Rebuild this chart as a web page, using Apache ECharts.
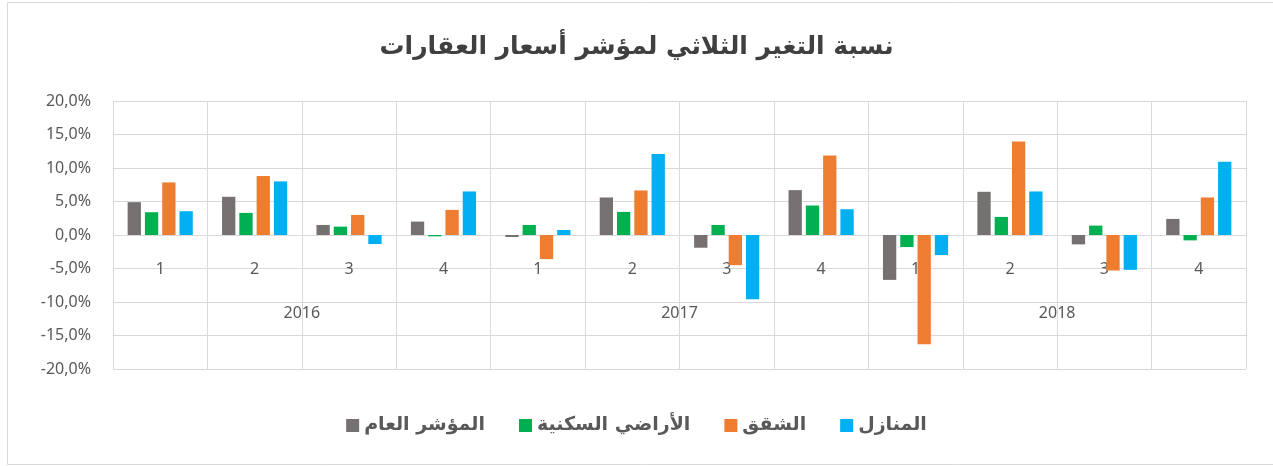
<!DOCTYPE html>
<html>
<head>
<meta charset="utf-8">
<script src="https://cdn.jsdelivr.net/npm/echarts@6/dist/echarts.min.js"></script>
<style>html,body{margin:0;padding:0;background:#fff}#c{width:1273px;height:466px}</style>
</head>
<body>
<div id="c"></div>
<script>
const quarters = ['1','2','3','4','1','2','3','4','1','2','3','4'];
const years = ['2016','2017','2018'];
const seriesNames = ['المؤشر العام','الأراضي السكنية','الشقق','المنازل'];
const generalIndex = [4.9, 5.7, 1.5, 2.0, -0.3, 5.6, -1.9, 6.7, -6.7, 6.45, -1.4, 2.4];
const residentialLand = [3.4, 3.3, 1.25, -0.2, 1.5, 3.45, 1.5, 4.4, -1.8, 2.7, 1.4, -0.8];
const apartments = [7.85, 8.8, 3.0, 3.75, -3.6, 6.65, -4.5, 11.85, -16.3, 13.95, -5.3, 5.6];
const houses = [3.55, 8.0, -1.35, 6.5, 0.75, 12.1, -9.6, 3.85, -3.0, 6.5, -5.2, 10.95];
const colors = ['#767171','#00B050','#ED7D31','#00B0F0'];
const title = 'نسبة التغير الثلاثي لمؤشر أسعار العقارات';

const chart = echarts.init(document.getElementById('c'));
const dataSets = [generalIndex, residentialLand, apartments, houses];
chart.setOption({
  backgroundColor: '#fff',
  animation: false,
  title: {
    text: title, left: 'center', top: 30,
    textStyle: {fontFamily: 'DejaVu Sans', fontSize: 25, fontWeight: 'bold', color: '#404040'}
  },
  legend: {
    data: seriesNames, left: 'center', top: 411, itemWidth: 13, itemHeight: 13, itemGap: 34,
    icon: 'rect',
    textStyle: {fontFamily: 'DejaVu Sans', fontSize: 19, fontWeight: 'bold', color: '#595959'}
  },
  graphic: [{type: 'rect', shape: {x: 7.5, y: 2.5, width: 1300, height: 462}, style: {fill: 'none', stroke: '#d9d9d9', lineWidth: 1}, silent: true, z: -1}],
  grid: {left: 113, right: 27, top: 101, height: 268, containLabel: false},
  xAxis: [{
    type: 'category', data: quarters, position: 'bottom',
    axisLine: {show: false, onZero: false},
    axisTick: {show: false},
    splitLine: {show: true, interval: 0, lineStyle: {color: '#d9d9d9', width: 1}},
    axisLabel: {interval: 0, margin: -108, fontFamily: 'Noto Sans', fontSize: 16, color: '#595959'}
  }, {
    type: 'category', data: years, position: 'bottom', offset: 0,
    axisLine: {show: false, onZero: false},
    axisTick: {show: false},
    splitLine: {show: false},
    axisLabel: {interval: 0, margin: -64, fontFamily: 'Noto Sans', fontSize: 16, color: '#595959'}
  }],
  yAxis: {
    type: 'value', min: -20, max: 20, interval: 5,
    axisLine: {show: false}, axisTick: {show: false},
    splitLine: {lineStyle: {color: '#d9d9d9', width: 1}},
    axisLabel: {margin: 22, fontFamily: 'Noto Sans', fontSize: 16, color: '#595959',
      formatter: v => v.toFixed(1).replace('.', ',') + '%'}
  },
  series: seriesNames.map((n, i) => ({
    name: n, type: 'bar', xAxisIndex: 0, data: dataSets[i],
    itemStyle: {color: colors[i]},
    barCategoryGap: '31%', barGap: '30%'
  }))
});
</script>
</body>
</html>
